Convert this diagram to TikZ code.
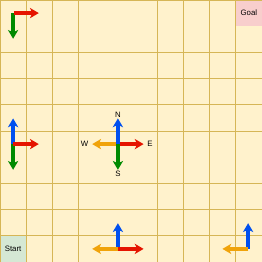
\documentclass[tikz,border=0pt]{standalone}
\usepackage{fontspec}
\setmainfont{Liberation Sans}
\usetikzlibrary{arrows.meta, positioning}
\definecolor{cBg}{HTML}{FFF2CC}
\definecolor{cGrid}{HTML}{D6B656}
\definecolor{cLightGreen}{HTML}{D5E8D4}
\definecolor{cGreenLine}{HTML}{82B366}
\definecolor{cLightRed}{HTML}{F8CECC}
\definecolor{cRedLine}{HTML}{B85450}
\definecolor{cRed}{HTML}{E51400}
\definecolor{cBlue}{HTML}{0050EF}
\definecolor{cGreen}{HTML}{008A00}
\definecolor{cOrange}{HTML}{F0A30A}

\begin{document}
\begin{tikzpicture}[
    x=1cm, y=1cm,
    font=\fontsize{8.5}{10}\selectfont,
    gridline/.style={draw=cGrid, line width=1pt},
    cell/.style={minimum size=1cm, inner sep=0pt, line width=0.8pt},
    dir/.style={line width=3.8pt, -{Stealth[length=9.5pt, width=11pt, inset=2.5pt]}},
    lbl/.style={inner sep=1pt, text=black},
]

% ================================================================
%  Board
% ================================================================

\fill[cBg] (0,0) rectangle (10,10);
\useasboundingbox (0,0) rectangle (10,10);

\node[cell, fill=cLightGreen, draw=cGreenLine] (start) at (0.5,0.5) {Start};
\node[cell, fill=cLightRed] (goal) at (9.5,9.5) {Goal};

\foreach \gx in {1,2,3,6,7,8,9}
    \draw[gridline] (\gx,0) -- (\gx,10);
\foreach \gy in {1,2,3,5,6,7,8}
    \draw[gridline] (0,\gy) -- (10,\gy);
\draw[gridline] (0,0) rectangle (10,10);

% ================================================================
%  Top left: east + south
% ================================================================

\coordinate (tl)  at (0.5,9.5);
\coordinate (tlE) at ([xshift=0.98cm]tl);
\coordinate (tlS) at ([yshift=-0.98cm]tl);

\draw[dir, cGreen] (tl) -- (tlS);
\draw[dir, cRed]   ([xshift=1pt]tl) -- (tlE);

% ================================================================
%  Left middle: north + south + east
% ================================================================

\coordinate (ml)  at (0.5,4.5);
\coordinate (mlN) at ([yshift=0.98cm]ml);
\coordinate (mlS) at ([yshift=-0.98cm]ml);
\coordinate (mlE) at ([xshift=0.98cm]ml);

\draw[dir, cBlue]  (ml) -- (mlN);
\draw[dir, cGreen] (ml) -- (mlS);
\draw[dir, cRed]   (ml) -- (mlE);

% ================================================================
%  Centre: compass
% ================================================================

\coordinate (cc)  at (4.5,4.5);
\coordinate (ccN) at ([yshift=0.98cm]cc);
\coordinate (ccS) at ([yshift=-0.98cm]cc);
\coordinate (ccE) at ([xshift=0.98cm]cc);
\coordinate (ccW) at ([xshift=-0.98cm]cc);

\draw[dir, cOrange] (cc) -- (ccW);
\draw[dir, cRed]    (cc) -- (ccE);
\draw[dir, cBlue]   (cc) -- (ccN);
\draw[dir, cGreen]  (cc) -- (ccS);

\node[lbl, above=0pt of ccN] (lblN) {N};
\node[lbl, below=0pt of ccS] (lblS) {S};
\node[lbl, right=3pt of ccE] (lblE) {E};
\node[lbl, left=3pt of ccW]  (lblW) {W};

% ================================================================
%  Bottom: west + east + north, and west + north
% ================================================================

\coordinate (bm)  at (4.5,0.5);
\coordinate (bmN) at ([yshift=0.98cm]bm);
\coordinate (bmE) at ([xshift=0.98cm]bm);
\coordinate (bmW) at ([xshift=-0.98cm]bm);

\draw[dir, cBlue]   (bm) -- (bmN);
\draw[dir, cOrange] (bm) -- (bmW);
\draw[dir, cRed]    (bm) -- (bmE);

\coordinate (br)  at (9.47,0.5);
\coordinate (brN) at ([yshift=0.98cm]br);
\coordinate (brW) at ([xshift=-0.98cm]br);

\draw[dir, cBlue]   (br) -- (brN);
\draw[dir, cOrange] (br) -- (brW);

\end{tikzpicture}
\end{document}
